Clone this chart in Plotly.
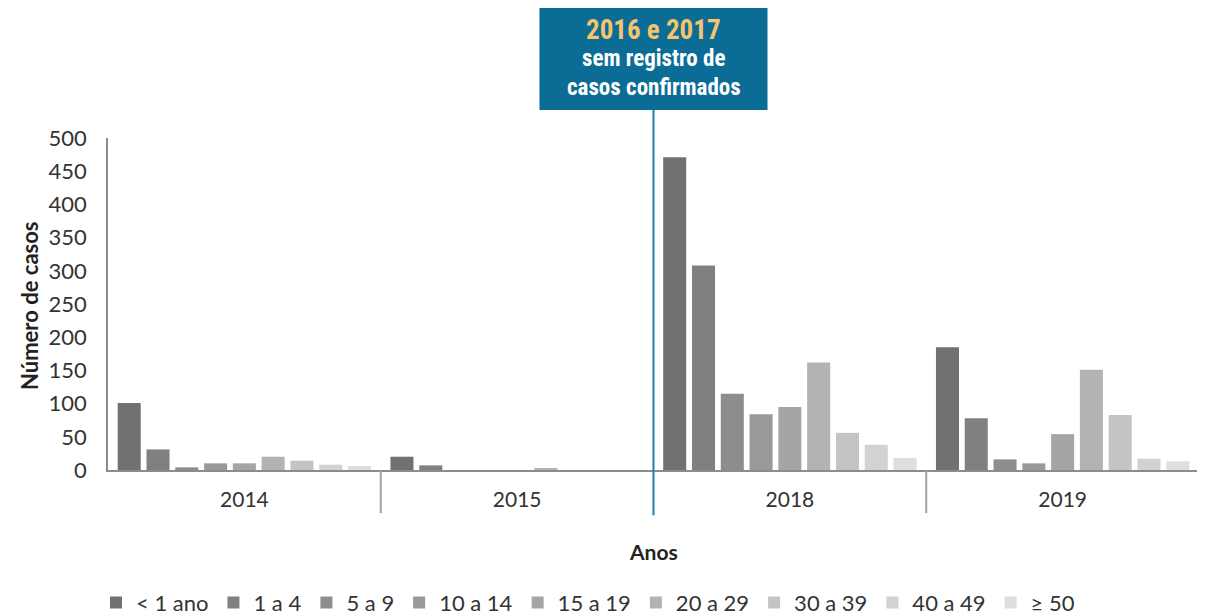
import plotly.graph_objects as go

anos = ['2014', '2015', '2018', '2019']
faixas = ['< 1 ano', '1 a 4', '5 a 9', '10 a 14', '15 a 19', '20 a 29', '30 a 39', '40 a 49', '≥ 50']

# casos por faixa etaria, na ordem dos anos
casos = {
    '< 1 ano': [101, 20, 471, 185],
    '1 a 4':   [31, 7, 308, 78],
    '5 a 9':   [4, 0, 115, 16],
    '10 a 14': [10, 0, 84, 10],
    '15 a 19': [10, 0, 95, 54],
    '20 a 29': [20, 3, 162, 151],
    '30 a 39': [14, 0, 56, 83],
    '40 a 49': [8, 0, 38, 17],
    '≥ 50':    [6, 0, 18, 13],
}

cores = ['#717171', '#808080', '#8d8d8d', '#999999', '#a5a5a5',
         '#b3b3b3', '#c4c4c4', '#d2d2d2', '#dedede']

fnt = 'Lato, Noto Sans, sans-serif'
fnt_box = 'Liberation Sans Narrow, Roboto Condensed, Roboto, sans-serif'

fig = go.Figure()
for faixa, cor in zip(faixas, cores):
    fig.add_trace(go.Bar(x=anos, y=casos[faixa], name=faixa,
                         marker_color=cor, marker_line_width=0))

# a pagina tem 8px de margem no body, por isso a figura e 8px menor
layout = go.Layout(
    width=1197, height=608,
    font=dict(family=fnt, color='#333333', size=20),
    plot_bgcolor='#FFF',
    paper_bgcolor='#FFF',
    margin=dict(l=100, r=6, t=130, b=146, autoexpand=False),
    barmode='group',
    bargap=0.05,
    bargroupgap=0.2,
    xaxis=dict(
        type='category',
        showline=True, linecolor='#8c8c8c', linewidth=1.5,
        ticks='', showgrid=False,
        ticklabelstandoff=10,
        tickfont=dict(size=21, color='#333333'),
    ),
    yaxis=dict(
        range=[0, 500], dtick=50,
        showline=True, linecolor='#8c8c8c', linewidth=1.5,
        showgrid=False, zeroline=False, ticks='',
        ticklabelstandoff=15,
        tickfont=dict(size=22, color='#333333'),
    ),
    showlegend=True,
    legend=dict(orientation='h', x=-0.011, xanchor='left', y=-0.4, yanchor='middle',
                font=dict(size=22, color='#333333'), traceorder='normal',
                itemwidth=30, tracegroupgap=0),
)
fig.update_layout(layout)

# divisores entre anos
for xb in [0.5, 2.5]:
    fig.add_shape(type='line', xref='x', yref='paper', x0=xb, x1=xb, y0=0, y1=-0.13,
                  line=dict(color='#a0a0a0', width=2))

# linha azul e caixa 2016/2017
fig.add_shape(type='line', xref='x', yref='paper', x0=1.5, x1=1.5, y0=1.085, y1=-0.136,
              line=dict(color='#1b7fae', width=2))
fig.add_shape(type='rect', xref='x', yref='paper', x0=1.5 - 0.418, x1=1.5 + 0.418,
              y0=1.0843, y1=1.3916, fillcolor='#0b6d96', line=dict(width=0))
linhas_box = [("<b>2016 e 2017</b>", '#f6c46a', 27, 1.325),
              ("<b>sem registro de</b>", 'white', 23, 1.238),
              ("<b>casos confirmados</b>", 'white', 23, 1.152)]
for txt, cor, sz, yy in linhas_box:
    fig.add_annotation(x=1.5, xref='x', y=yy, yref='paper', showarrow=False, text=txt,
                       yanchor='middle', font=dict(family=fnt_box, size=sz, color=cor))

# titulos dos eixos
fig.add_annotation(x=1.5, xref='x', y=-0.289, yref='paper', showarrow=False,
                   text='<b>Anos</b>', font=dict(size=21, color='#222222'))
fig.add_annotation(x=-0.0715, xref='paper', y=0.497, yref='paper', showarrow=False,
                   xanchor='center', yanchor='middle',
                   text='<b>Número de casos</b>', textangle=-90,
                   font=dict(size=22, color='#222222'))

fig.write_html("out.html")
